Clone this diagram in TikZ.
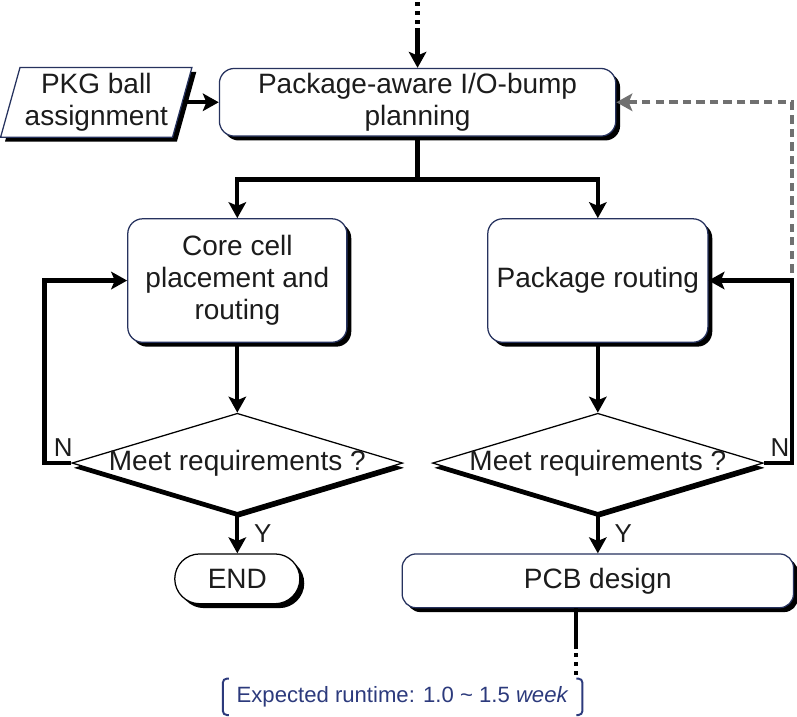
\documentclass[tikz,border=0pt]{standalone}
\usepackage{fontspec}
\setmainfont{Liberation Sans}
\usetikzlibrary{shapes.geometric, shapes.misc, arrows.meta, positioning, calc, shadows}
\definecolor{inkcolor}{HTML}{1C1C1C}
\definecolor{edgecolor}{HTML}{26325E}
\definecolor{loopgray}{HTML}{707070}
\definecolor{runtimeblue}{HTML}{2C3A7C}

\begin{document}
\begin{tikzpicture}[
  x=0.25mm, y=0.25mm,
  every node/.style={font=\fontsize{20}{23}\selectfont, text=inkcolor},
  align=center,
]

\tikzset{
  boxshadow/.style={drop shadow={shadow xshift=1.1mm, shadow yshift=-1.1mm,
    fill=black, opacity=1}},
  process/.style={rectangle, rounded corners=3.75mm, draw=edgecolor,
    line width=0.9pt, fill=white, boxshadow},
  io/.style={trapezium, trapezium left angle=74, trapezium right angle=106,
    trapezium stretches=true, draw=edgecolor, line width=0.9pt, fill=white,
    minimum width=46.5mm, minimum height=17.5mm, boxshadow},
  decision/.style={diamond, draw=black, line width=0.9pt, fill=white,
    inner sep=0pt, minimum width=83mm, minimum height=25mm,
    drop shadow={shadow xshift=0.4mm, shadow yshift=-1.2mm, fill=black, opacity=1}},
  terminal/.style={rounded rectangle, draw=black, line width=0.9pt, fill=white,
    minimum width=33.75mm, minimum height=12.5mm, boxshadow},
  flowline/.style={-{Stealth[length=4mm, width=4.4mm, inset=0.9mm]},
    line width=3pt, black},
  feedline/.style={-{Stealth[length=4mm, width=4.4mm, inset=0.9mm]},
    line width=3pt, loopgray, dash pattern=on 2.1mm off 1.3mm},
  yn/.style={font=\fontsize{18.5}{21}\selectfont},
  runtime/.style={text=runtimeblue, font=\fontsize{15.8}{18}\selectfont,
    inner xsep=3.4mm, minimum height=9mm},
  bracketline/.style={runtimeblue, line width=1.4pt, rounded corners=1mm},
}

% ---------------------------------------------------------------
% bump planning with its package input
% ---------------------------------------------------------------
\node[process, minimum width=99.5mm, minimum height=16.5mm] (plan) at (416,-101)
  {Package-aware I/O-bump\\planning};
\node[io, left=9mm of plan] (pkg) {PKG ball\\assignment};

% ---------------------------------------------------------------
% chip side (left) and package side (right)
% ---------------------------------------------------------------
\node[process, minimum width=55mm, minimum height=31mm] (core) at (235,-280)
  {Core cell\\placement and\\routing};
\node[process, minimum width=55.25mm, minimum height=31mm] (route) at (597,-280)
  {Package routing};

\node[decision, below=17.5mm of core,  label={center:Meet requirements ?}] (dec1) {};
\node[decision, below=17.5mm of route, label={center:Meet requirements ?}] (dec2) {};

\node[terminal, below=10mm of dec1] (end) {END};
\node[process, rounded corners=3.5mm, minimum width=98.25mm, minimum height=13.5mm,
      below=10mm of dec2] (pcb) {PCB design};

% Main flow
\coordinate (topin) at ($(plan.north)+(0,66)$);
\draw[flowline, dash pattern=on 1mm off 1.25mm on 1mm off 1.25mm on 1mm off 1mm on 30mm]
  (topin) -- (plan.north);
\draw[flowline] (pkg.east) -- (plan.west);

\coordinate (split) at ($(plan.south)+(0,-43)$);
\draw[flowline] (plan.south) -- (split) -| (core.north);
\draw[flowline] (split) -| (route.north);

\draw[flowline] (core.south) -- (dec1.north);
\draw[flowline] (route.south) -- (dec2.north);

\draw[flowline] (dec1.south) -- node[yn, right, xshift=2.5mm]{Y} (end.north);
\draw[flowline] (dec2.south) -- node[yn, right, xshift=2.5mm]{Y} (pcb.north);

% retry loops
\draw[flowline] (dec1.west) node[yn, above left, xshift=2mm]{N} -- ++(-27,0) |- (core.west);

\coordinate (rloop) at ($(dec2.east)+(28,0)$);
\draw[flowline] (dec2.east) node[yn, above right]{N} -- (rloop) |- (route.east);

% package feedback to bump planning
\coordinate (fbstart) at ($(rloop |- route.east)+(0,8)$);
\draw[feedline] (fbstart) |- (plan.east);

% continues to board level
\coordinate (pcbout) at ($(pcb.south)+(-22,0)$);
\coordinate (pcbtail) at ($(pcbout)+(0,-68)$);
\draw[line width=3pt, dash pattern=on 10.25mm off 1mm on 1mm off 1.25mm on 1mm off 1.25mm on 1mm]
  (pcbout) -- (pcbtail);

\node[runtime] (rt) at (401,-698)
  {Expected runtime: 1.0 \textasciitilde{} 1.5 \textit{week}};
\draw[bracketline] ([xshift=1.5mm]rt.north west) -- (rt.north west)
  -- (rt.south west) -- ([xshift=1.5mm]rt.south west);
\draw[bracketline] ([xshift=-1.5mm]rt.north east) -- (rt.north east)
  -- (rt.south east) -- ([xshift=-1.5mm]rt.south east);

\useasboundingbox (0,0) rectangle (797,-718);
\end{tikzpicture}
\end{document}
